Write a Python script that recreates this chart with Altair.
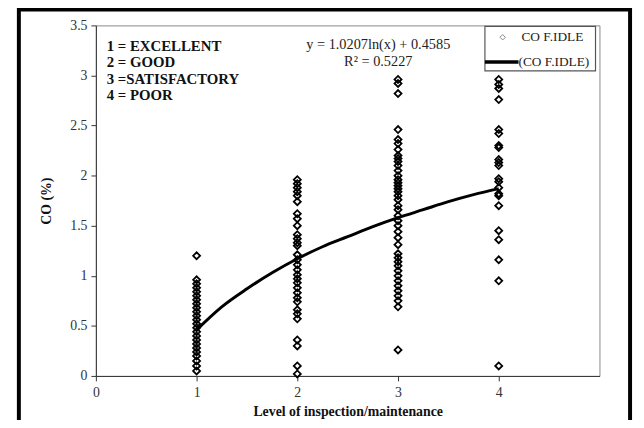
import altair as alt
import pandas as pd

# ---- data ----
level1 = [1.20, 0.96, 0.92, 0.88, 0.84, 0.80, 0.76, 0.72, 0.68, 0.64, 0.60, 0.56,
          0.52, 0.48, 0.44, 0.40, 0.36, 0.32, 0.28, 0.24, 0.20, 0.15, 0.10, 0.05]
level2 = [1.96, 1.92, 1.88, 1.84, 1.80, 1.74, 1.62, 1.57, 1.50, 1.41, 1.37, 1.33,
          1.30, 1.21, 1.16, 1.11, 1.06, 1.01, 0.97, 0.93, 0.88, 0.83, 0.78, 0.74,
          0.66, 0.62, 0.57, 0.36, 0.30, 0.10, 0.02]
level3 = [2.96, 2.92, 2.82, 2.46, 2.36, 2.32, 2.26, 2.20, 2.17, 2.14, 2.10, 2.05,
          2.00, 1.96, 1.93, 1.90, 1.87, 1.84, 1.80, 1.76, 1.70, 1.66, 1.60, 1.55,
          1.50, 1.44, 1.38, 1.31, 1.22, 1.18, 1.14, 1.10, 1.05, 1.00, 0.95, 0.90,
          0.85, 0.80, 0.75, 0.69, 0.26]
level4 = [2.96, 2.91, 2.87, 2.76, 2.46, 2.42, 2.30, 2.28, 2.16, 2.13, 2.10, 1.97,
          1.94, 1.88, 1.82, 1.80, 1.70, 1.45, 1.36, 1.16, 0.95, 0.10]

trend_x = [1.0, 1.25, 1.5, 1.75, 2.0, 2.25, 2.5, 2.75, 3.0, 3.25, 3.5, 3.75, 4.0]
trend_y = [0.46, 0.69, 0.87, 1.03, 1.17, 1.29, 1.39, 1.49, 1.58, 1.66, 1.74, 1.81, 1.87]

key_lines = ["1 = EXCELLENT", "2 = GOOD", "3 =SATISFACTORY", "4 = POOR"]
eq_lines = ["y = 1.0207ln(x) + 0.4585", "R² = 0.5227"]
legend_labels = ["CO F.IDLE", "(CO F.IDLE)"]
x_ticks = [0, 1, 2, 3, 4]
y_ticks = [0, 0.5, 1, 1.5, 2, 2.5, 3, 3.5]

rows = []
for lvl, vals in zip([1, 2, 3, 4], [level1, level2, level3, level4]):
    for v in vals:
        rows.append({"level": lvl, "co": v})
pts = pd.DataFrame(rows)
trend = pd.DataFrame({"level": trend_x, "co": trend_y})

FONT = "Liberation Serif"
W, H = 510, 355

xscale = alt.Scale(domain=[0, 5], nice=False)
yscale = alt.Scale(domain=[0, 3.5], nice=False)

xaxis = alt.Axis(values=x_ticks, title="Level of inspection/maintenance", grid=False,
                 format="d",
                 labelFont=FONT, labelFontSize=14, labelColor="#333",
                 titleFont=FONT, titleFontSize=14, titleFontWeight="bold", titleColor="#111",
                 titlePadding=5, tickColor="#333", domainColor="#333", labelPadding=5,
                 labelFlush=False)
yaxis = alt.Axis(values=y_ticks, title="CO (%)", grid=False, format="~g",
                 labelFont=FONT, labelFontSize=14, labelColor="#333",
                 titleFont=FONT, titleFontSize=14, titleFontWeight="bold", titleColor="#111",
                 titlePadding=16, tickColor="#333", domainColor="#333", labelPadding=4,
                 labelFlush=False)

points = alt.Chart(pts).mark_point(shape="diamond", filled=False, color="black",
                                   size=50, strokeWidth=1.8, opacity=1).encode(
    x=alt.X("level:Q", scale=xscale, axis=xaxis),
    y=alt.Y("co:Q", scale=yscale, axis=yaxis),
)

line = alt.Chart(trend).mark_line(color="black", strokeWidth=3, interpolate="monotone").encode(
    x=alt.X("level:Q", scale=xscale),
    y=alt.Y("co:Q", scale=yscale),
)


def label(text, x, y, align="left", bold=False, size=14, color="#111"):
    return alt.Chart(pd.DataFrame({"t": [text]})).mark_text(
        align=align, baseline="middle", font=FONT, fontSize=size,
        fontWeight="bold" if bold else "normal", color=color).encode(
        x=alt.value(x), y=alt.value(y), text="t:N")


layers = []
# outer frame around the whole figure
layers.append(alt.Chart(pd.DataFrame({"a": [0]})).mark_rect(
    fill=None, stroke="black", strokeWidth=4, clip=False).encode(
    x=alt.value(-78), x2=alt.value(541), y=alt.value(-16), y2=alt.value(420)))
layers += [points, line]
for i, t in enumerate(key_lines):
    layers.append(label(t, 11, 21 + i * 16.5, bold=True, size=15))
for i, t in enumerate(eq_lines):
    layers.append(label(t, 286, 20 + i * 17, align="center", size=14.5, color="#222"))

# legend box (top right inside plot)
layers.append(alt.Chart(pd.DataFrame({"a": [0]})).mark_rect(
    fill="white", stroke="#555", strokeWidth=1.2).encode(
    x=alt.value(394), x2=alt.value(506), y=alt.value(1), y2=alt.value(46)))
layers.append(alt.Chart(pd.DataFrame({"a": [0]})).mark_point(
    shape="diamond", filled=False, color="#555", size=30, strokeWidth=1).encode(
    x=alt.value(412), y=alt.value(12)))
layers.append(alt.Chart(pd.DataFrame({"a": [0]})).mark_rule(
    color="black", strokeWidth=3.5).encode(
    x=alt.value(394), x2=alt.value(428), y=alt.value(37)))
layers.append(label(legend_labels[0], 431, 12, size=13.5, color="#222"))
layers.append(label(legend_labels[1], 428, 37, size=13.5, color="#222"))

chart = alt.layer(*layers).properties(
    width=W, height=H,
    autosize=alt.AutoSizeParams(type="none"),
    padding={"left": 89, "top": 15, "right": 37, "bottom": 42},
    background="white",
).configure_view(stroke="#888", strokeWidth=1)

chart.save("out.html", embed_options={"renderer": "svg", "actions": False})
